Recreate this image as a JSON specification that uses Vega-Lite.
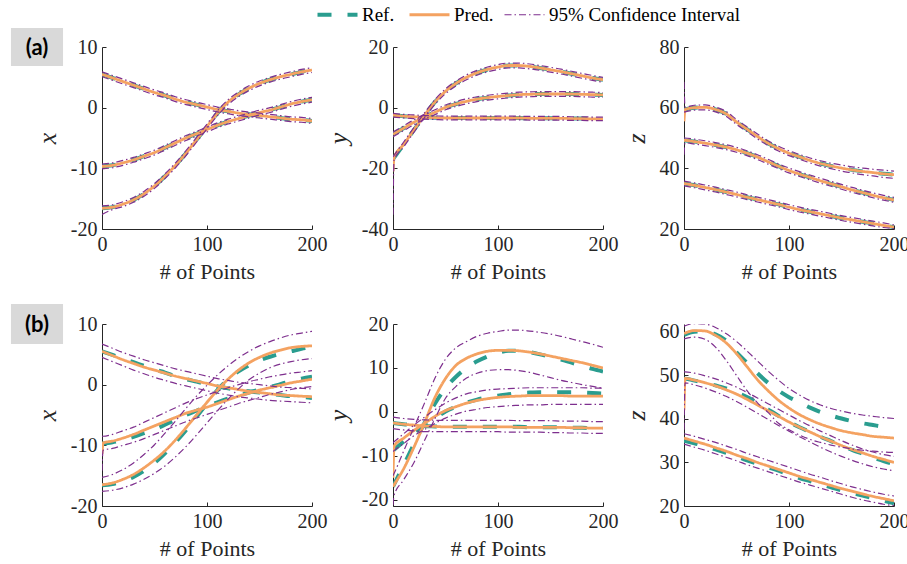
{
"$schema": "https://vega.github.io/schema/vega-lite/v6.json",
"background": "white",
"padding": {"left": 10, "top": 5, "right": 6, "bottom": 0},
"data": {"values": [
{"p":"a1","c":1,"t":0,"r":5.5,"q":5.5,"l":5.1,"h":5.9},
{"p":"a1","c":1,"t":10,"r":4.9,"q":4.9,"l":4.5,"h":5.3},
{"p":"a1","c":1,"t":20,"r":4.3,"q":4.3,"l":3.9,"h":4.7},
{"p":"a1","c":1,"t":30,"r":3.7,"q":3.7,"l":3.3,"h":4.1},
{"p":"a1","c":1,"t":40,"r":3.1,"q":3.1,"l":2.7,"h":3.5},
{"p":"a1","c":1,"t":50,"r":2.5,"q":2.5,"l":2.1,"h":2.9},
{"p":"a1","c":1,"t":60,"r":2.0,"q":2.0,"l":1.6,"h":2.4},
{"p":"a1","c":1,"t":70,"r":1.4,"q":1.4,"l":1.0,"h":1.8},
{"p":"a1","c":1,"t":80,"r":0.9,"q":0.9,"l":0.5,"h":1.3},
{"p":"a1","c":1,"t":90,"r":0.5,"q":0.5,"l":0.1,"h":0.9},
{"p":"a1","c":1,"t":100,"r":0.1,"q":0.1,"l":-0.3,"h":0.5},
{"p":"a1","c":1,"t":110,"r":-0.3,"q":-0.3,"l":-0.7,"h":0.1},
{"p":"a1","c":1,"t":120,"r":-0.6,"q":-0.6,"l":-1.0,"h":-0.2},
{"p":"a1","c":1,"t":130,"r":-0.9,"q":-0.9,"l":-1.3,"h":-0.5},
{"p":"a1","c":1,"t":140,"r":-1.1,"q":-1.1,"l":-1.5,"h":-0.7},
{"p":"a1","c":1,"t":150,"r":-1.3,"q":-1.3,"l":-1.7,"h":-0.9},
{"p":"a1","c":1,"t":160,"r":-1.5,"q":-1.5,"l":-1.9,"h":-1.1},
{"p":"a1","c":1,"t":170,"r":-1.7,"q":-1.7,"l":-2.1,"h":-1.3},
{"p":"a1","c":1,"t":180,"r":-1.9,"q":-1.9,"l":-2.3,"h":-1.5},
{"p":"a1","c":1,"t":190,"r":-2.0,"q":-2.0,"l":-2.4,"h":-1.6},
{"p":"a1","c":1,"t":200,"r":-2.2,"q":-2.2,"l":-2.6,"h":-1.8},
{"p":"a1","c":2,"t":0,"r":-9.7,"q":-9.7,"l":-10.1,"h":-9.3},
{"p":"a1","c":2,"t":10,"r":-9.5,"q":-9.5,"l":-9.9,"h":-9.1},
{"p":"a1","c":2,"t":20,"r":-9.1,"q":-9.1,"l":-9.5,"h":-8.7},
{"p":"a1","c":2,"t":30,"r":-8.6,"q":-8.6,"l":-9.0,"h":-8.2},
{"p":"a1","c":2,"t":40,"r":-8.0,"q":-8.0,"l":-8.4,"h":-7.6},
{"p":"a1","c":2,"t":50,"r":-7.4,"q":-7.4,"l":-7.8,"h":-7.0},
{"p":"a1","c":2,"t":60,"r":-6.6,"q":-6.6,"l":-7.0,"h":-6.2},
{"p":"a1","c":2,"t":70,"r":-5.8,"q":-5.8,"l":-6.2,"h":-5.4},
{"p":"a1","c":2,"t":80,"r":-5.0,"q":-5.0,"l":-5.4,"h":-4.6},
{"p":"a1","c":2,"t":90,"r":-4.3,"q":-4.3,"l":-4.7,"h":-3.9},
{"p":"a1","c":2,"t":100,"r":-3.6,"q":-3.6,"l":-4.0,"h":-3.2},
{"p":"a1","c":2,"t":110,"r":-2.9,"q":-2.9,"l":-3.3,"h":-2.5},
{"p":"a1","c":2,"t":120,"r":-2.3,"q":-2.3,"l":-2.7,"h":-1.9},
{"p":"a1","c":2,"t":130,"r":-1.8,"q":-1.8,"l":-2.2,"h":-1.4},
{"p":"a1","c":2,"t":140,"r":-1.3,"q":-1.3,"l":-1.7,"h":-0.9},
{"p":"a1","c":2,"t":150,"r":-0.8,"q":-0.8,"l":-1.2,"h":-0.4},
{"p":"a1","c":2,"t":160,"r":-0.4,"q":-0.4,"l":-0.8,"h":0.0},
{"p":"a1","c":2,"t":170,"r":0.1,"q":0.1,"l":-0.3,"h":0.5},
{"p":"a1","c":2,"t":180,"r":0.6,"q":0.6,"l":0.2,"h":1.0},
{"p":"a1","c":2,"t":190,"r":1.0,"q":1.0,"l":0.6,"h":1.4},
{"p":"a1","c":2,"t":200,"r":1.3,"q":1.3,"l":0.9,"h":1.7},
{"p":"a1","c":3,"t":0,"r":-16.6,"q":-16.6,"l":-17.6,"h":-16.2},
{"p":"a1","c":3,"t":10,"r":-16.4,"q":-16.4,"l":-16.8,"h":-16.0},
{"p":"a1","c":3,"t":20,"r":-15.9,"q":-15.9,"l":-16.3,"h":-15.5},
{"p":"a1","c":3,"t":30,"r":-15.2,"q":-15.2,"l":-15.6,"h":-14.8},
{"p":"a1","c":3,"t":40,"r":-14.2,"q":-14.2,"l":-14.6,"h":-13.8},
{"p":"a1","c":3,"t":50,"r":-12.9,"q":-12.9,"l":-13.3,"h":-12.5},
{"p":"a1","c":3,"t":60,"r":-11.3,"q":-11.3,"l":-11.7,"h":-10.9},
{"p":"a1","c":3,"t":70,"r":-9.5,"q":-9.5,"l":-9.9,"h":-9.1},
{"p":"a1","c":3,"t":80,"r":-7.5,"q":-7.5,"l":-7.9,"h":-7.1},
{"p":"a1","c":3,"t":90,"r":-5.3,"q":-5.3,"l":-5.7,"h":-4.9},
{"p":"a1","c":3,"t":100,"r":-3.1,"q":-3.1,"l":-3.5,"h":-2.7},
{"p":"a1","c":3,"t":110,"r":-0.9,"q":-0.9,"l":-1.3,"h":-0.5},
{"p":"a1","c":3,"t":120,"r":0.9,"q":0.9,"l":0.5,"h":1.3},
{"p":"a1","c":3,"t":130,"r":2.2,"q":2.2,"l":1.8,"h":2.6},
{"p":"a1","c":3,"t":140,"r":3.2,"q":3.2,"l":2.8,"h":3.6},
{"p":"a1","c":3,"t":150,"r":4.0,"q":4.0,"l":3.6,"h":4.4},
{"p":"a1","c":3,"t":160,"r":4.6,"q":4.6,"l":4.2,"h":5.0},
{"p":"a1","c":3,"t":170,"r":5.1,"q":5.1,"l":4.7,"h":5.5},
{"p":"a1","c":3,"t":180,"r":5.5,"q":5.5,"l":5.1,"h":5.9},
{"p":"a1","c":3,"t":190,"r":5.9,"q":5.9,"l":5.5,"h":6.3},
{"p":"a1","c":3,"t":200,"r":6.2,"q":6.2,"l":5.8,"h":6.6},
{"p":"b1","c":1,"t":0,"r":5.5,"q":5.5,"l":4.5,"h":6.7},
{"p":"b1","c":1,"t":10,"r":4.9,"q":4.8,"l":3.8,"h":6.0},
{"p":"b1","c":1,"t":20,"r":4.3,"q":4.1,"l":3.1,"h":5.3},
{"p":"b1","c":1,"t":30,"r":3.7,"q":3.5,"l":2.4,"h":4.7},
{"p":"b1","c":1,"t":40,"r":3.1,"q":2.9,"l":1.8,"h":4.1},
{"p":"b1","c":1,"t":50,"r":2.5,"q":2.4,"l":1.2,"h":3.6},
{"p":"b1","c":1,"t":60,"r":2.0,"q":1.9,"l":0.7,"h":3.1},
{"p":"b1","c":1,"t":70,"r":1.4,"q":1.4,"l":0.2,"h":2.6},
{"p":"b1","c":1,"t":80,"r":0.9,"q":1.0,"l":-0.2,"h":2.2},
{"p":"b1","c":1,"t":90,"r":0.5,"q":0.6,"l":-0.6,"h":1.8},
{"p":"b1","c":1,"t":100,"r":0.1,"q":0.2,"l":-1.0,"h":1.4},
{"p":"b1","c":1,"t":110,"r":-0.3,"q":-0.2,"l":-1.4,"h":1.0},
{"p":"b1","c":1,"t":120,"r":-0.6,"q":-0.5,"l":-1.7,"h":0.7},
{"p":"b1","c":1,"t":130,"r":-0.9,"q":-0.8,"l":-2.0,"h":0.4},
{"p":"b1","c":1,"t":140,"r":-1.1,"q":-1.1,"l":-2.2,"h":0.2},
{"p":"b1","c":1,"t":150,"r":-1.3,"q":-1.3,"l":-2.4,"h":0.0},
{"p":"b1","c":1,"t":160,"r":-1.5,"q":-1.5,"l":-2.6,"h":-0.2},
{"p":"b1","c":1,"t":170,"r":-1.7,"q":-1.7,"l":-2.7,"h":-0.4},
{"p":"b1","c":1,"t":180,"r":-1.9,"q":-1.8,"l":-2.8,"h":-0.5},
{"p":"b1","c":1,"t":190,"r":-2.0,"q":-1.9,"l":-2.9,"h":-0.6},
{"p":"b1","c":1,"t":200,"r":-2.2,"q":-2.0,"l":-3.0,"h":-0.7},
{"p":"b1","c":2,"t":0,"r":-9.7,"q":-11.4,"l":-14.2,"h":-8.5},
{"p":"b1","c":2,"t":1,"r":-9.7,"q":-9.6,"l":-10.8,"h":-8.5},
{"p":"b1","c":2,"t":10,"r":-9.5,"q":-9.3,"l":-10.5,"h":-8.2},
{"p":"b1","c":2,"t":20,"r":-9.1,"q":-8.8,"l":-10.0,"h":-7.6},
{"p":"b1","c":2,"t":30,"r":-8.6,"q":-8.2,"l":-9.5,"h":-7.0},
{"p":"b1","c":2,"t":40,"r":-8.0,"q":-7.5,"l":-8.9,"h":-6.2},
{"p":"b1","c":2,"t":50,"r":-7.4,"q":-6.8,"l":-8.2,"h":-5.4},
{"p":"b1","c":2,"t":60,"r":-6.6,"q":-6.1,"l":-7.5,"h":-4.6},
{"p":"b1","c":2,"t":70,"r":-5.8,"q":-5.4,"l":-6.8,"h":-3.8},
{"p":"b1","c":2,"t":80,"r":-5.0,"q":-4.7,"l":-6.1,"h":-3.0},
{"p":"b1","c":2,"t":90,"r":-4.3,"q":-4.2,"l":-5.5,"h":-2.3},
{"p":"b1","c":2,"t":100,"r":-3.6,"q":-3.7,"l":-4.9,"h":-1.7},
{"p":"b1","c":2,"t":110,"r":-2.9,"q":-3.1,"l":-4.3,"h":-1.1},
{"p":"b1","c":2,"t":120,"r":-2.3,"q":-2.5,"l":-3.7,"h":-0.5},
{"p":"b1","c":2,"t":130,"r":-1.8,"q":-1.9,"l":-3.1,"h":0.0},
{"p":"b1","c":2,"t":140,"r":-1.3,"q":-1.4,"l":-2.6,"h":0.5},
{"p":"b1","c":2,"t":150,"r":-0.8,"q":-0.9,"l":-2.1,"h":0.9},
{"p":"b1","c":2,"t":160,"r":-0.4,"q":-0.5,"l":-1.6,"h":1.3},
{"p":"b1","c":2,"t":170,"r":0.1,"q":-0.1,"l":-1.2,"h":1.6},
{"p":"b1","c":2,"t":180,"r":0.6,"q":0.3,"l":-0.8,"h":1.9},
{"p":"b1","c":2,"t":190,"r":1.0,"q":0.6,"l":-0.5,"h":2.1},
{"p":"b1","c":2,"t":200,"r":1.3,"q":0.9,"l":-0.3,"h":2.3},
{"p":"b1","c":3,"t":0,"r":-16.6,"q":-16.5,"l":-17.6,"h":-15.3},
{"p":"b1","c":3,"t":10,"r":-16.4,"q":-16.2,"l":-17.4,"h":-14.8},
{"p":"b1","c":3,"t":20,"r":-15.9,"q":-15.6,"l":-17.0,"h":-14.0},
{"p":"b1","c":3,"t":30,"r":-15.2,"q":-14.8,"l":-16.4,"h":-12.9},
{"p":"b1","c":3,"t":40,"r":-14.2,"q":-13.7,"l":-15.6,"h":-11.5},
{"p":"b1","c":3,"t":50,"r":-12.9,"q":-12.4,"l":-14.6,"h":-9.9},
{"p":"b1","c":3,"t":60,"r":-11.3,"q":-10.9,"l":-13.4,"h":-8.0},
{"p":"b1","c":3,"t":70,"r":-9.5,"q":-9.1,"l":-11.9,"h":-6.0},
{"p":"b1","c":3,"t":80,"r":-7.5,"q":-7.1,"l":-10.2,"h":-3.9},
{"p":"b1","c":3,"t":90,"r":-5.3,"q":-5.0,"l":-8.3,"h":-1.9},
{"p":"b1","c":3,"t":100,"r":-3.1,"q":-2.9,"l":-6.3,"h":-0.1},
{"p":"b1","c":3,"t":110,"r":-0.9,"q":-0.9,"l":-4.3,"h":1.6},
{"p":"b1","c":3,"t":120,"r":0.9,"q":0.9,"l":-2.4,"h":3.1},
{"p":"b1","c":3,"t":130,"r":2.2,"q":2.4,"l":-0.7,"h":4.4},
{"p":"b1","c":3,"t":140,"r":3.2,"q":3.6,"l":0.8,"h":5.5},
{"p":"b1","c":3,"t":150,"r":4.0,"q":4.5,"l":1.9,"h":6.4},
{"p":"b1","c":3,"t":160,"r":4.6,"q":5.2,"l":2.8,"h":7.1},
{"p":"b1","c":3,"t":170,"r":5.1,"q":5.7,"l":3.4,"h":7.7},
{"p":"b1","c":3,"t":180,"r":5.5,"q":6.1,"l":3.8,"h":8.2},
{"p":"b1","c":3,"t":190,"r":5.9,"q":6.3,"l":4.1,"h":8.5},
{"p":"b1","c":3,"t":200,"r":6.2,"q":6.4,"l":4.3,"h":8.8},
{"p":"a2","c":1,"t":0,"r":-17.0,"q":-21.0,"l":-35.3,"h":-16.2},
{"p":"a2","c":1,"t":1,"r":-16.5,"q":-16.5,"l":-17.3,"h":-15.7},
{"p":"a2","c":1,"t":10,"r":-12.2,"q":-12.2,"l":-13.0,"h":-11.4},
{"p":"a2","c":1,"t":20,"r":-7.3,"q":-7.3,"l":-8.1,"h":-6.5},
{"p":"a2","c":1,"t":30,"r":-2.5,"q":-2.5,"l":-3.3,"h":-1.7},
{"p":"a2","c":1,"t":40,"r":1.9,"q":1.9,"l":1.1,"h":2.7},
{"p":"a2","c":1,"t":50,"r":5.4,"q":5.4,"l":4.6,"h":6.2},
{"p":"a2","c":1,"t":60,"r":8.0,"q":8.0,"l":7.2,"h":8.8},
{"p":"a2","c":1,"t":70,"r":10.0,"q":10.0,"l":9.2,"h":10.8},
{"p":"a2","c":1,"t":80,"r":11.5,"q":11.5,"l":10.7,"h":12.3},
{"p":"a2","c":1,"t":90,"r":12.6,"q":12.6,"l":11.8,"h":13.4},
{"p":"a2","c":1,"t":100,"r":13.4,"q":13.4,"l":12.6,"h":14.2},
{"p":"a2","c":1,"t":110,"r":13.9,"q":13.9,"l":13.1,"h":14.7},
{"p":"a2","c":1,"t":120,"r":13.9,"q":13.9,"l":13.1,"h":14.7},
{"p":"a2","c":1,"t":130,"r":13.6,"q":13.6,"l":12.8,"h":14.4},
{"p":"a2","c":1,"t":140,"r":13.1,"q":13.1,"l":12.3,"h":13.9},
{"p":"a2","c":1,"t":150,"r":12.5,"q":12.5,"l":11.7,"h":13.3},
{"p":"a2","c":1,"t":160,"r":11.9,"q":11.9,"l":11.1,"h":12.7},
{"p":"a2","c":1,"t":170,"r":11.2,"q":11.2,"l":10.4,"h":12.0},
{"p":"a2","c":1,"t":180,"r":10.5,"q":10.5,"l":9.7,"h":11.3},
{"p":"a2","c":1,"t":190,"r":9.8,"q":9.8,"l":9.0,"h":10.6},
{"p":"a2","c":1,"t":200,"r":9.2,"q":9.2,"l":8.4,"h":10.0},
{"p":"a2","c":2,"t":0,"r":-8.8,"q":-8.8,"l":-9.6,"h":-8.0},
{"p":"a2","c":2,"t":10,"r":-6.8,"q":-6.8,"l":-7.6,"h":-6.0},
{"p":"a2","c":2,"t":20,"r":-4.8,"q":-4.8,"l":-5.6,"h":-4.0},
{"p":"a2","c":2,"t":30,"r":-3.0,"q":-3.0,"l":-3.8,"h":-2.2},
{"p":"a2","c":2,"t":40,"r":-1.5,"q":-1.5,"l":-2.3,"h":-0.7},
{"p":"a2","c":2,"t":50,"r":0.1,"q":0.1,"l":-0.7,"h":0.9},
{"p":"a2","c":2,"t":60,"r":1.2,"q":1.2,"l":0.4,"h":2.0},
{"p":"a2","c":2,"t":70,"r":2.1,"q":2.1,"l":1.3,"h":2.9},
{"p":"a2","c":2,"t":80,"r":2.8,"q":2.8,"l":2.0,"h":3.6},
{"p":"a2","c":2,"t":90,"r":3.3,"q":3.3,"l":2.5,"h":4.1},
{"p":"a2","c":2,"t":100,"r":3.7,"q":3.7,"l":2.9,"h":4.5},
{"p":"a2","c":2,"t":110,"r":4.0,"q":4.0,"l":3.2,"h":4.8},
{"p":"a2","c":2,"t":120,"r":4.3,"q":4.3,"l":3.5,"h":5.1},
{"p":"a2","c":2,"t":130,"r":4.4,"q":4.4,"l":3.6,"h":5.2},
{"p":"a2","c":2,"t":140,"r":4.5,"q":4.5,"l":3.7,"h":5.3},
{"p":"a2","c":2,"t":150,"r":4.5,"q":4.5,"l":3.7,"h":5.3},
{"p":"a2","c":2,"t":160,"r":4.5,"q":4.5,"l":3.7,"h":5.3},
{"p":"a2","c":2,"t":170,"r":4.5,"q":4.5,"l":3.7,"h":5.3},
{"p":"a2","c":2,"t":180,"r":4.4,"q":4.4,"l":3.6,"h":5.2},
{"p":"a2","c":2,"t":190,"r":4.3,"q":4.3,"l":3.5,"h":5.1},
{"p":"a2","c":2,"t":200,"r":4.2,"q":4.2,"l":3.4,"h":5.0},
{"p":"a2","c":3,"t":0,"r":-2.5,"q":-2.5,"l":-3.1,"h":-1.9},
{"p":"a2","c":3,"t":10,"r":-2.8,"q":-2.8,"l":-3.4,"h":-2.2},
{"p":"a2","c":3,"t":20,"r":-3.0,"q":-3.0,"l":-3.6,"h":-2.4},
{"p":"a2","c":3,"t":30,"r":-3.2,"q":-3.2,"l":-3.8,"h":-2.6},
{"p":"a2","c":3,"t":40,"r":-3.3,"q":-3.3,"l":-3.9,"h":-2.7},
{"p":"a2","c":3,"t":50,"r":-3.4,"q":-3.4,"l":-4.0,"h":-2.8},
{"p":"a2","c":3,"t":60,"r":-3.4,"q":-3.4,"l":-4.0,"h":-2.8},
{"p":"a2","c":3,"t":70,"r":-3.4,"q":-3.4,"l":-4.0,"h":-2.8},
{"p":"a2","c":3,"t":80,"r":-3.4,"q":-3.4,"l":-4.0,"h":-2.8},
{"p":"a2","c":3,"t":90,"r":-3.4,"q":-3.4,"l":-4.0,"h":-2.8},
{"p":"a2","c":3,"t":100,"r":-3.4,"q":-3.4,"l":-4.0,"h":-2.8},
{"p":"a2","c":3,"t":110,"r":-3.4,"q":-3.4,"l":-4.0,"h":-2.8},
{"p":"a2","c":3,"t":120,"r":-3.4,"q":-3.4,"l":-4.0,"h":-2.8},
{"p":"a2","c":3,"t":130,"r":-3.5,"q":-3.5,"l":-4.1,"h":-2.9},
{"p":"a2","c":3,"t":140,"r":-3.5,"q":-3.5,"l":-4.1,"h":-2.9},
{"p":"a2","c":3,"t":150,"r":-3.5,"q":-3.5,"l":-4.1,"h":-2.9},
{"p":"a2","c":3,"t":160,"r":-3.5,"q":-3.5,"l":-4.1,"h":-2.9},
{"p":"a2","c":3,"t":170,"r":-3.6,"q":-3.6,"l":-4.2,"h":-3.0},
{"p":"a2","c":3,"t":180,"r":-3.6,"q":-3.6,"l":-4.2,"h":-3.0},
{"p":"a2","c":3,"t":190,"r":-3.7,"q":-3.7,"l":-4.3,"h":-3.1},
{"p":"a2","c":3,"t":200,"r":-3.7,"q":-3.7,"l":-4.3,"h":-3.1},
{"p":"b2","c":1,"t":0,"r":-17.0,"q":-17.0,"l":-21.2,"h":-14.5},
{"p":"b2","c":1,"t":1,"r":-16.5,"q":-16.6,"l":-19.0,"h":-14.0},
{"p":"b2","c":1,"t":10,"r":-12.2,"q":-13.0,"l":-15.5,"h":-9.0},
{"p":"b2","c":1,"t":20,"r":-7.3,"q":-8.0,"l":-11.5,"h":-3.5},
{"p":"b2","c":1,"t":30,"r":-2.5,"q":-2.5,"l":-6.5,"h":2.0},
{"p":"b2","c":1,"t":40,"r":1.9,"q":3.3,"l":-1.5,"h":7.7},
{"p":"b2","c":1,"t":50,"r":5.4,"q":7.6,"l":3.1,"h":12.0},
{"p":"b2","c":1,"t":60,"r":8.0,"q":10.6,"l":5.8,"h":14.6},
{"p":"b2","c":1,"t":70,"r":10.0,"q":12.2,"l":7.7,"h":16.0},
{"p":"b2","c":1,"t":80,"r":11.5,"q":13.2,"l":8.8,"h":17.2},
{"p":"b2","c":1,"t":90,"r":12.6,"q":13.8,"l":9.4,"h":17.9},
{"p":"b2","c":1,"t":100,"r":13.4,"q":14.0,"l":9.6,"h":18.3},
{"p":"b2","c":1,"t":110,"r":13.9,"q":14.0,"l":9.6,"h":18.6},
{"p":"b2","c":1,"t":120,"r":13.9,"q":13.9,"l":9.4,"h":18.6},
{"p":"b2","c":1,"t":130,"r":13.6,"q":13.6,"l":9.0,"h":18.4},
{"p":"b2","c":1,"t":140,"r":13.1,"q":13.2,"l":8.4,"h":18.1},
{"p":"b2","c":1,"t":150,"r":12.5,"q":12.7,"l":7.8,"h":17.7},
{"p":"b2","c":1,"t":160,"r":11.9,"q":12.2,"l":7.2,"h":17.2},
{"p":"b2","c":1,"t":170,"r":11.2,"q":11.7,"l":6.7,"h":16.6},
{"p":"b2","c":1,"t":180,"r":10.5,"q":11.2,"l":6.2,"h":16.0},
{"p":"b2","c":1,"t":190,"r":9.8,"q":10.6,"l":5.8,"h":15.4},
{"p":"b2","c":1,"t":200,"r":9.2,"q":10.0,"l":5.4,"h":14.7},
{"p":"b2","c":2,"t":0,"r":-8.8,"q":-15.0,"l":-9.0,"h":-7.0},
{"p":"b2","c":2,"t":1,"r":-8.6,"q":-7.8,"l":-8.8,"h":-6.8},
{"p":"b2","c":2,"t":10,"r":-6.8,"q":-6.0,"l":-7.2,"h":-5.0},
{"p":"b2","c":2,"t":20,"r":-4.8,"q":-4.2,"l":-5.4,"h":-3.0},
{"p":"b2","c":2,"t":30,"r":-3.0,"q":-2.6,"l":-4.0,"h":-1.2},
{"p":"b2","c":2,"t":40,"r":-1.5,"q":-1.0,"l":-2.6,"h":0.5},
{"p":"b2","c":2,"t":50,"r":0.1,"q":0.3,"l":-1.4,"h":2.0},
{"p":"b2","c":2,"t":60,"r":1.2,"q":1.2,"l":-0.5,"h":3.2},
{"p":"b2","c":2,"t":70,"r":2.1,"q":2.0,"l":0.2,"h":4.1},
{"p":"b2","c":2,"t":80,"r":2.8,"q":2.6,"l":0.6,"h":4.6},
{"p":"b2","c":2,"t":90,"r":3.3,"q":3.0,"l":1.0,"h":5.0},
{"p":"b2","c":2,"t":100,"r":3.7,"q":3.3,"l":1.2,"h":5.2},
{"p":"b2","c":2,"t":110,"r":4.0,"q":3.5,"l":1.4,"h":5.3},
{"p":"b2","c":2,"t":120,"r":4.3,"q":3.6,"l":1.5,"h":5.4},
{"p":"b2","c":2,"t":130,"r":4.4,"q":3.7,"l":1.6,"h":5.5},
{"p":"b2","c":2,"t":140,"r":4.5,"q":3.7,"l":1.6,"h":5.5},
{"p":"b2","c":2,"t":150,"r":4.5,"q":3.7,"l":1.7,"h":5.5},
{"p":"b2","c":2,"t":160,"r":4.5,"q":3.7,"l":1.7,"h":5.5},
{"p":"b2","c":2,"t":170,"r":4.5,"q":3.6,"l":1.7,"h":5.5},
{"p":"b2","c":2,"t":180,"r":4.4,"q":3.6,"l":1.7,"h":5.5},
{"p":"b2","c":2,"t":190,"r":4.3,"q":3.6,"l":1.7,"h":5.4},
{"p":"b2","c":2,"t":200,"r":4.2,"q":3.6,"l":1.7,"h":5.4},
{"p":"b2","c":3,"t":0,"r":-2.5,"q":-2.5,"l":-3.8,"h":-1.2},
{"p":"b2","c":3,"t":10,"r":-2.8,"q":-2.8,"l":-4.1,"h":-1.5},
{"p":"b2","c":3,"t":20,"r":-3.0,"q":-3.0,"l":-4.3,"h":-1.7},
{"p":"b2","c":3,"t":30,"r":-3.2,"q":-3.2,"l":-4.5,"h":-1.8},
{"p":"b2","c":3,"t":40,"r":-3.3,"q":-3.3,"l":-4.5,"h":-1.9},
{"p":"b2","c":3,"t":50,"r":-3.4,"q":-3.4,"l":-4.5,"h":-1.9},
{"p":"b2","c":3,"t":60,"r":-3.4,"q":-3.4,"l":-4.5,"h":-1.9},
{"p":"b2","c":3,"t":70,"r":-3.4,"q":-3.4,"l":-4.5,"h":-1.9},
{"p":"b2","c":3,"t":80,"r":-3.4,"q":-3.4,"l":-4.5,"h":-1.9},
{"p":"b2","c":3,"t":90,"r":-3.4,"q":-3.4,"l":-4.5,"h":-1.9},
{"p":"b2","c":3,"t":100,"r":-3.4,"q":-3.4,"l":-4.5,"h":-1.9},
{"p":"b2","c":3,"t":110,"r":-3.4,"q":-3.4,"l":-4.6,"h":-1.9},
{"p":"b2","c":3,"t":120,"r":-3.4,"q":-3.5,"l":-4.6,"h":-2.0},
{"p":"b2","c":3,"t":130,"r":-3.5,"q":-3.5,"l":-4.6,"h":-2.0},
{"p":"b2","c":3,"t":140,"r":-3.5,"q":-3.5,"l":-4.6,"h":-2.0},
{"p":"b2","c":3,"t":150,"r":-3.5,"q":-3.5,"l":-4.7,"h":-2.0},
{"p":"b2","c":3,"t":160,"r":-3.5,"q":-3.5,"l":-4.7,"h":-2.1},
{"p":"b2","c":3,"t":170,"r":-3.6,"q":-3.6,"l":-4.8,"h":-2.1},
{"p":"b2","c":3,"t":180,"r":-3.6,"q":-3.6,"l":-4.8,"h":-2.1},
{"p":"b2","c":3,"t":190,"r":-3.7,"q":-3.7,"l":-4.9,"h":-2.2},
{"p":"b2","c":3,"t":200,"r":-3.7,"q":-3.7,"l":-4.9,"h":-2.2},
{"p":"a3","c":1,"t":0,"r":59.3,"q":55.5,"l":58.5,"h":68.5},
{"p":"a3","c":1,"t":1,"r":59.4,"q":59.4,"l":58.6,"h":60.2},
{"p":"a3","c":1,"t":10,"r":60.0,"q":60.0,"l":59.2,"h":60.8},
{"p":"a3","c":1,"t":20,"r":60.1,"q":60.1,"l":59.3,"h":60.9},
{"p":"a3","c":1,"t":30,"r":59.4,"q":59.4,"l":58.6,"h":60.2},
{"p":"a3","c":1,"t":40,"r":58.0,"q":58.0,"l":57.2,"h":58.8},
{"p":"a3","c":1,"t":50,"r":55.3,"q":55.3,"l":54.5,"h":56.1},
{"p":"a3","c":1,"t":60,"r":52.9,"q":52.9,"l":52.1,"h":53.7},
{"p":"a3","c":1,"t":70,"r":50.5,"q":50.5,"l":49.7,"h":51.3},
{"p":"a3","c":1,"t":80,"r":48.3,"q":48.3,"l":47.5,"h":49.1},
{"p":"a3","c":1,"t":90,"r":46.5,"q":46.5,"l":45.7,"h":47.3},
{"p":"a3","c":1,"t":100,"r":45.0,"q":45.0,"l":44.2,"h":45.8},
{"p":"a3","c":1,"t":110,"r":43.8,"q":43.8,"l":43.0,"h":44.6},
{"p":"a3","c":1,"t":120,"r":42.6,"q":42.6,"l":41.8,"h":43.4},
{"p":"a3","c":1,"t":130,"r":41.6,"q":41.6,"l":40.7,"h":42.5},
{"p":"a3","c":1,"t":140,"r":40.8,"q":40.8,"l":39.9,"h":41.7},
{"p":"a3","c":1,"t":150,"r":40.1,"q":40.1,"l":39.1,"h":41.1},
{"p":"a3","c":1,"t":160,"r":39.5,"q":39.5,"l":38.5,"h":40.5},
{"p":"a3","c":1,"t":170,"r":39.0,"q":39.0,"l":37.9,"h":40.1},
{"p":"a3","c":1,"t":180,"r":38.6,"q":38.6,"l":37.5,"h":39.7},
{"p":"a3","c":1,"t":190,"r":38.2,"q":38.2,"l":37.0,"h":39.4},
{"p":"a3","c":1,"t":200,"r":37.9,"q":37.9,"l":36.7,"h":39.1},
{"p":"a3","c":2,"t":0,"r":49.2,"q":49.2,"l":44.5,"h":50.0},
{"p":"a3","c":2,"t":1,"r":49.2,"q":49.2,"l":48.4,"h":50.0},
{"p":"a3","c":2,"t":10,"r":48.8,"q":48.8,"l":48.0,"h":49.6},
{"p":"a3","c":2,"t":20,"r":48.3,"q":48.3,"l":47.5,"h":49.1},
{"p":"a3","c":2,"t":30,"r":47.7,"q":47.7,"l":46.9,"h":48.5},
{"p":"a3","c":2,"t":40,"r":47.0,"q":47.0,"l":46.2,"h":47.8},
{"p":"a3","c":2,"t":50,"r":46.1,"q":46.1,"l":45.3,"h":46.9},
{"p":"a3","c":2,"t":60,"r":45.0,"q":45.0,"l":44.2,"h":45.8},
{"p":"a3","c":2,"t":70,"r":43.7,"q":43.7,"l":42.9,"h":44.5},
{"p":"a3","c":2,"t":80,"r":42.2,"q":42.2,"l":41.4,"h":43.0},
{"p":"a3","c":2,"t":90,"r":40.7,"q":40.7,"l":39.9,"h":41.5},
{"p":"a3","c":2,"t":100,"r":39.3,"q":39.3,"l":38.5,"h":40.1},
{"p":"a3","c":2,"t":110,"r":38.1,"q":38.1,"l":37.3,"h":38.9},
{"p":"a3","c":2,"t":120,"r":37.0,"q":37.0,"l":36.2,"h":37.8},
{"p":"a3","c":2,"t":130,"r":35.9,"q":35.9,"l":35.1,"h":36.7},
{"p":"a3","c":2,"t":140,"r":34.9,"q":34.9,"l":34.1,"h":35.7},
{"p":"a3","c":2,"t":150,"r":33.9,"q":33.9,"l":33.1,"h":34.7},
{"p":"a3","c":2,"t":160,"r":32.9,"q":32.9,"l":32.1,"h":33.7},
{"p":"a3","c":2,"t":170,"r":32.0,"q":32.0,"l":31.2,"h":32.8},
{"p":"a3","c":2,"t":180,"r":31.1,"q":31.1,"l":30.3,"h":31.9},
{"p":"a3","c":2,"t":190,"r":30.3,"q":30.3,"l":29.5,"h":31.1},
{"p":"a3","c":2,"t":200,"r":29.6,"q":29.6,"l":28.8,"h":30.4},
{"p":"a3","c":3,"t":0,"r":35.0,"q":35.0,"l":34.2,"h":35.8},
{"p":"a3","c":3,"t":10,"r":34.4,"q":34.4,"l":33.6,"h":35.2},
{"p":"a3","c":3,"t":20,"r":33.7,"q":33.7,"l":32.9,"h":34.5},
{"p":"a3","c":3,"t":30,"r":33.0,"q":33.0,"l":32.2,"h":33.8},
{"p":"a3","c":3,"t":40,"r":32.2,"q":32.2,"l":31.4,"h":33.0},
{"p":"a3","c":3,"t":50,"r":31.4,"q":31.4,"l":30.6,"h":32.2},
{"p":"a3","c":3,"t":60,"r":30.5,"q":30.5,"l":29.7,"h":31.3},
{"p":"a3","c":3,"t":70,"r":29.7,"q":29.7,"l":28.9,"h":30.5},
{"p":"a3","c":3,"t":80,"r":28.9,"q":28.9,"l":28.1,"h":29.7},
{"p":"a3","c":3,"t":90,"r":28.1,"q":28.1,"l":27.3,"h":28.9},
{"p":"a3","c":3,"t":100,"r":27.2,"q":27.2,"l":26.4,"h":28.0},
{"p":"a3","c":3,"t":110,"r":26.4,"q":26.4,"l":25.6,"h":27.2},
{"p":"a3","c":3,"t":120,"r":25.7,"q":25.7,"l":24.9,"h":26.5},
{"p":"a3","c":3,"t":130,"r":25.0,"q":25.0,"l":24.2,"h":25.8},
{"p":"a3","c":3,"t":140,"r":24.3,"q":24.3,"l":23.5,"h":25.1},
{"p":"a3","c":3,"t":150,"r":23.6,"q":23.6,"l":22.8,"h":24.4},
{"p":"a3","c":3,"t":160,"r":23.0,"q":23.0,"l":22.2,"h":23.8},
{"p":"a3","c":3,"t":170,"r":22.4,"q":22.4,"l":21.6,"h":23.2},
{"p":"a3","c":3,"t":180,"r":21.8,"q":21.8,"l":21.0,"h":22.6},
{"p":"a3","c":3,"t":190,"r":21.2,"q":21.2,"l":20.5,"h":22.0},
{"p":"a3","c":3,"t":200,"r":20.6,"q":20.6,"l":20.1,"h":21.4},
{"p":"b3","c":1,"t":0,"r":59.3,"q":59.6,"l":58.4,"h":61.3},
{"p":"b3","c":1,"t":10,"r":60.0,"q":60.3,"l":58.8,"h":61.9},
{"p":"b3","c":1,"t":20,"r":60.1,"q":60.2,"l":58.3,"h":61.8},
{"p":"b3","c":1,"t":30,"r":59.4,"q":59.2,"l":56.5,"h":61.0},
{"p":"b3","c":1,"t":40,"r":58.0,"q":57.5,"l":53.5,"h":59.6},
{"p":"b3","c":1,"t":50,"r":55.3,"q":55.0,"l":50.0,"h":57.8},
{"p":"b3","c":1,"t":60,"r":52.9,"q":52.0,"l":46.5,"h":55.6},
{"p":"b3","c":1,"t":70,"r":50.5,"q":49.0,"l":43.7,"h":53.3},
{"p":"b3","c":1,"t":80,"r":48.3,"q":46.5,"l":41.5,"h":51.0},
{"p":"b3","c":1,"t":90,"r":46.5,"q":44.3,"l":39.0,"h":48.9},
{"p":"b3","c":1,"t":100,"r":45.0,"q":42.5,"l":37.5,"h":47.0},
{"p":"b3","c":1,"t":110,"r":43.8,"q":41.0,"l":36.3,"h":45.5},
{"p":"b3","c":1,"t":120,"r":42.6,"q":39.8,"l":35.3,"h":44.2},
{"p":"b3","c":1,"t":130,"r":41.6,"q":38.8,"l":34.6,"h":43.2},
{"p":"b3","c":1,"t":140,"r":40.8,"q":38.0,"l":34.0,"h":42.4},
{"p":"b3","c":1,"t":150,"r":40.1,"q":37.3,"l":33.5,"h":41.8},
{"p":"b3","c":1,"t":160,"r":39.5,"q":36.8,"l":33.1,"h":41.3},
{"p":"b3","c":1,"t":170,"r":39.0,"q":36.4,"l":32.8,"h":40.9},
{"p":"b3","c":1,"t":180,"r":38.6,"q":36.0,"l":32.6,"h":40.6},
{"p":"b3","c":1,"t":190,"r":38.2,"q":35.8,"l":32.4,"h":40.3},
{"p":"b3","c":1,"t":200,"r":37.9,"q":35.6,"l":32.3,"h":40.1},
{"p":"b3","c":2,"t":0,"r":49.2,"q":42.0,"l":37.5,"h":50.8},
{"p":"b3","c":2,"t":1,"r":49.2,"q":49.3,"l":48.3,"h":50.8},
{"p":"b3","c":2,"t":10,"r":48.8,"q":48.9,"l":47.8,"h":50.5},
{"p":"b3","c":2,"t":20,"r":48.3,"q":48.3,"l":47.1,"h":49.9},
{"p":"b3","c":2,"t":30,"r":47.7,"q":47.6,"l":46.2,"h":49.2},
{"p":"b3","c":2,"t":40,"r":47.0,"q":46.7,"l":45.2,"h":48.3},
{"p":"b3","c":2,"t":50,"r":46.1,"q":45.7,"l":44.0,"h":47.3},
{"p":"b3","c":2,"t":60,"r":45.0,"q":44.5,"l":42.7,"h":46.1},
{"p":"b3","c":2,"t":70,"r":43.7,"q":43.2,"l":41.3,"h":44.8},
{"p":"b3","c":2,"t":80,"r":42.2,"q":41.9,"l":39.9,"h":43.5},
{"p":"b3","c":2,"t":90,"r":40.7,"q":40.6,"l":38.5,"h":42.2},
{"p":"b3","c":2,"t":100,"r":39.3,"q":39.3,"l":37.2,"h":40.9},
{"p":"b3","c":2,"t":110,"r":38.1,"q":38.1,"l":35.9,"h":39.6},
{"p":"b3","c":2,"t":120,"r":37.0,"q":37.0,"l":34.7,"h":38.4},
{"p":"b3","c":2,"t":130,"r":35.9,"q":35.9,"l":33.5,"h":37.2},
{"p":"b3","c":2,"t":140,"r":34.9,"q":34.9,"l":32.4,"h":36.1},
{"p":"b3","c":2,"t":150,"r":33.9,"q":33.9,"l":31.4,"h":35.0},
{"p":"b3","c":2,"t":160,"r":32.9,"q":33.0,"l":30.5,"h":34.0},
{"p":"b3","c":2,"t":170,"r":32.0,"q":32.2,"l":29.7,"h":33.1},
{"p":"b3","c":2,"t":180,"r":31.1,"q":31.4,"l":29.0,"h":32.4},
{"p":"b3","c":2,"t":190,"r":30.3,"q":30.7,"l":28.5,"h":31.8},
{"p":"b3","c":2,"t":200,"r":29.6,"q":30.0,"l":28.1,"h":31.4},
{"p":"b3","c":3,"t":0,"r":35.0,"q":35.6,"l":34.2,"h":36.6},
{"p":"b3","c":3,"t":10,"r":34.4,"q":34.9,"l":33.5,"h":36.0},
{"p":"b3","c":3,"t":20,"r":33.7,"q":34.2,"l":32.8,"h":35.3},
{"p":"b3","c":3,"t":30,"r":33.0,"q":33.4,"l":32.0,"h":34.6},
{"p":"b3","c":3,"t":40,"r":32.2,"q":32.6,"l":31.2,"h":33.8},
{"p":"b3","c":3,"t":50,"r":31.4,"q":31.7,"l":30.4,"h":33.0},
{"p":"b3","c":3,"t":60,"r":30.5,"q":30.9,"l":29.5,"h":32.1},
{"p":"b3","c":3,"t":70,"r":29.7,"q":30.0,"l":28.7,"h":31.3},
{"p":"b3","c":3,"t":80,"r":28.9,"q":29.2,"l":27.9,"h":30.5},
{"p":"b3","c":3,"t":90,"r":28.1,"q":28.4,"l":27.1,"h":29.7},
{"p":"b3","c":3,"t":100,"r":27.2,"q":27.6,"l":26.3,"h":28.9},
{"p":"b3","c":3,"t":110,"r":26.4,"q":26.8,"l":25.5,"h":28.1},
{"p":"b3","c":3,"t":120,"r":25.7,"q":26.1,"l":24.8,"h":27.3},
{"p":"b3","c":3,"t":130,"r":25.0,"q":25.4,"l":24.1,"h":26.6},
{"p":"b3","c":3,"t":140,"r":24.3,"q":24.7,"l":23.4,"h":25.8},
{"p":"b3","c":3,"t":150,"r":23.6,"q":24.0,"l":22.7,"h":25.1},
{"p":"b3","c":3,"t":160,"r":23.0,"q":23.4,"l":22.0,"h":24.4},
{"p":"b3","c":3,"t":170,"r":22.4,"q":22.8,"l":21.4,"h":23.8},
{"p":"b3","c":3,"t":180,"r":21.8,"q":22.2,"l":20.9,"h":23.2},
{"p":"b3","c":3,"t":190,"r":21.2,"q":21.7,"l":20.4,"h":22.7},
{"p":"b3","c":3,"t":200,"r":20.6,"q":21.2,"l":20.1,"h":22.3}
]},
"columns": 3,
"spacing": {"row": 95, "column": 81},
"bounds": "flush",
"concat": [
{"width": 210, "height": 182, "layer": [
 {"transform": [{"filter": "datum.p == 'a1'"}, {"fold": ["r","q","l","h"], "as": ["s","v"]}],
  "encoding": {
   "x": {"field": "t", "type": "quantitative", "scale": {"domain": [0,200]}, "axis": {"values": [0,100,200], "title": "# of Points", "labelFont": "Liberation Serif", "titleFont": "Liberation Serif"}},
   "y": {"field": "v", "type": "quantitative", "scale": {"domain": [-20,10]}, "axis": {"values": [-20,-10,0,10], "title": "x", "labelFont": "Liberation Serif", "titleFont": "Liberation Serif", "labelExpr": "datum.value < 0 ? '-' + abs(datum.value) : '' + datum.value"}}
  },
  "layer": [
   {"transform": [{"filter": "datum.s == 'r'"}], "mark": {"type": "line", "clip": true}, "encoding": {"detail": {"field": "c"}, "color": {"datum": "Ref.", "scale": {"domain": ["Ref.","Pred.","95% Confidence Interval"], "range": ["#2A9D8F","#F4A261","#7E2F8E"]}, "legend": {"title": null}}, "strokeDash": {"datum": "Ref.", "scale": {"domain": ["Ref.","Pred.","95% Confidence Interval"], "range": [[14,16],[1,0],[7,3,1.5,3]]}, "legend": {"title": null}}, "strokeWidth": {"datum": "Ref.", "scale": {"type": "ordinal", "domain": ["Ref.","Pred.","95% Confidence Interval"], "range": [4,2.8,1.2]}, "legend": {"title": null}}}},
   {"transform": [{"filter": "datum.s == 'q'"}], "mark": {"type": "line", "clip": true}, "encoding": {"detail": {"field": "c"}, "color": {"datum": "Pred.", "scale": {"domain": ["Ref.","Pred.","95% Confidence Interval"], "range": ["#2A9D8F","#F4A261","#7E2F8E"]}, "legend": {"title": null}}, "strokeDash": {"datum": "Pred.", "scale": {"domain": ["Ref.","Pred.","95% Confidence Interval"], "range": [[14,16],[1,0],[7,3,1.5,3]]}, "legend": {"title": null}}, "strokeWidth": {"datum": "Pred.", "scale": {"type": "ordinal", "domain": ["Ref.","Pred.","95% Confidence Interval"], "range": [4,2.8,1.2]}, "legend": {"title": null}}}},
   {"transform": [{"filter": "datum.s == 'l' || datum.s == 'h'"}], "mark": {"type": "line", "clip": true}, "encoding": {"detail": [{"field": "c"},{"field": "s"}], "color": {"datum": "95% Confidence Interval", "scale": {"domain": ["Ref.","Pred.","95% Confidence Interval"], "range": ["#2A9D8F","#F4A261","#7E2F8E"]}, "legend": {"title": null}}, "strokeDash": {"datum": "95% Confidence Interval", "scale": {"domain": ["Ref.","Pred.","95% Confidence Interval"], "range": [[14,16],[1,0],[7,3,1.5,3]]}, "legend": {"title": null}}, "strokeWidth": {"datum": "95% Confidence Interval", "scale": {"type": "ordinal", "domain": ["Ref.","Pred.","95% Confidence Interval"], "range": [4,2.8,1.2]}, "legend": {"title": null}}}}
  ]},
 {"data": {"values": [{}]}, "mark": {"type": "rect", "color": "#D9D9D9"}, "encoding": {"x": {"datum": -86.7, "type": "quantitative", "scale": {"domain": [0,200]}}, "x2": {"datum": -37.1}, "y": {"datum": 13.13, "type": "quantitative", "scale": {"domain": [-20,10]}}, "y2": {"datum": 6.87}}},
 {"data": {"values": [{}]}, "mark": {"type": "text", "text": "(a)", "font": "Lato", "fontWeight": "bold", "fontSize": 22, "align": "center", "baseline": "middle", "color": "#000000"}, "encoding": {"x": {"datum": -61.9, "type": "quantitative", "scale": {"domain": [0,200]}}, "y": {"datum": 9.9, "type": "quantitative", "scale": {"domain": [-20,10]}}}}
]},
{"width": 210, "height": 182,
 "transform": [{"filter": "datum.p == 'a2'"}, {"fold": ["r","q","l","h"], "as": ["s","v"]}],
 "encoding": {
  "x": {"field": "t", "type": "quantitative", "scale": {"domain": [0,200]}, "axis": {"values": [0,100,200], "title": "# of Points", "labelFont": "Liberation Serif", "titleFont": "Liberation Serif"}},
  "y": {"field": "v", "type": "quantitative", "scale": {"domain": [-40,20]}, "axis": {"values": [-40,-20,0,20], "title": "y", "labelFont": "Liberation Serif", "titleFont": "Liberation Serif", "labelExpr": "datum.value < 0 ? '-' + abs(datum.value) : '' + datum.value"}}
 },
 "layer": [
  {"transform": [{"filter": "datum.s == 'r'"}], "mark": {"type": "line", "clip": true}, "encoding": {"detail": {"field": "c"}, "color": {"datum": "Ref.", "scale": {"domain": ["Ref.","Pred.","95% Confidence Interval"], "range": ["#2A9D8F","#F4A261","#7E2F8E"]}, "legend": {"title": null}}, "strokeDash": {"datum": "Ref.", "scale": {"domain": ["Ref.","Pred.","95% Confidence Interval"], "range": [[14,16],[1,0],[7,3,1.5,3]]}, "legend": {"title": null}}, "strokeWidth": {"datum": "Ref.", "scale": {"type": "ordinal", "domain": ["Ref.","Pred.","95% Confidence Interval"], "range": [4,2.8,1.2]}, "legend": {"title": null}}}},
  {"transform": [{"filter": "datum.s == 'q'"}], "mark": {"type": "line", "clip": true}, "encoding": {"detail": {"field": "c"}, "color": {"datum": "Pred.", "scale": {"domain": ["Ref.","Pred.","95% Confidence Interval"], "range": ["#2A9D8F","#F4A261","#7E2F8E"]}, "legend": {"title": null}}, "strokeDash": {"datum": "Pred.", "scale": {"domain": ["Ref.","Pred.","95% Confidence Interval"], "range": [[14,16],[1,0],[7,3,1.5,3]]}, "legend": {"title": null}}, "strokeWidth": {"datum": "Pred.", "scale": {"type": "ordinal", "domain": ["Ref.","Pred.","95% Confidence Interval"], "range": [4,2.8,1.2]}, "legend": {"title": null}}}},
  {"transform": [{"filter": "datum.s == 'l' || datum.s == 'h'"}], "mark": {"type": "line", "clip": true}, "encoding": {"detail": [{"field": "c"},{"field": "s"}], "color": {"datum": "95% Confidence Interval", "scale": {"domain": ["Ref.","Pred.","95% Confidence Interval"], "range": ["#2A9D8F","#F4A261","#7E2F8E"]}, "legend": {"title": null}}, "strokeDash": {"datum": "95% Confidence Interval", "scale": {"domain": ["Ref.","Pred.","95% Confidence Interval"], "range": [[14,16],[1,0],[7,3,1.5,3]]}, "legend": {"title": null}}, "strokeWidth": {"datum": "95% Confidence Interval", "scale": {"type": "ordinal", "domain": ["Ref.","Pred.","95% Confidence Interval"], "range": [4,2.8,1.2]}, "legend": {"title": null}}}}
 ]},
{"width": 210, "height": 182,
 "transform": [{"filter": "datum.p == 'a3'"}, {"fold": ["r","q","l","h"], "as": ["s","v"]}],
 "encoding": {
  "x": {"field": "t", "type": "quantitative", "scale": {"domain": [0,200]}, "axis": {"values": [0,100,200], "title": "# of Points", "labelFont": "Liberation Serif", "titleFont": "Liberation Serif"}},
  "y": {"field": "v", "type": "quantitative", "scale": {"domain": [20,80]}, "axis": {"values": [20,40,60,80], "title": "z", "labelFont": "Liberation Serif", "titleFont": "Liberation Serif"}}
 },
 "layer": [
  {"transform": [{"filter": "datum.s == 'r'"}], "mark": {"type": "line", "clip": true}, "encoding": {"detail": {"field": "c"}, "color": {"datum": "Ref.", "scale": {"domain": ["Ref.","Pred.","95% Confidence Interval"], "range": ["#2A9D8F","#F4A261","#7E2F8E"]}, "legend": {"title": null}}, "strokeDash": {"datum": "Ref.", "scale": {"domain": ["Ref.","Pred.","95% Confidence Interval"], "range": [[14,16],[1,0],[7,3,1.5,3]]}, "legend": {"title": null}}, "strokeWidth": {"datum": "Ref.", "scale": {"type": "ordinal", "domain": ["Ref.","Pred.","95% Confidence Interval"], "range": [4,2.8,1.2]}, "legend": {"title": null}}}},
  {"transform": [{"filter": "datum.s == 'q'"}], "mark": {"type": "line", "clip": true}, "encoding": {"detail": {"field": "c"}, "color": {"datum": "Pred.", "scale": {"domain": ["Ref.","Pred.","95% Confidence Interval"], "range": ["#2A9D8F","#F4A261","#7E2F8E"]}, "legend": {"title": null}}, "strokeDash": {"datum": "Pred.", "scale": {"domain": ["Ref.","Pred.","95% Confidence Interval"], "range": [[14,16],[1,0],[7,3,1.5,3]]}, "legend": {"title": null}}, "strokeWidth": {"datum": "Pred.", "scale": {"type": "ordinal", "domain": ["Ref.","Pred.","95% Confidence Interval"], "range": [4,2.8,1.2]}, "legend": {"title": null}}}},
  {"transform": [{"filter": "datum.s == 'l' || datum.s == 'h'"}], "mark": {"type": "line", "clip": true}, "encoding": {"detail": [{"field": "c"},{"field": "s"}], "color": {"datum": "95% Confidence Interval", "scale": {"domain": ["Ref.","Pred.","95% Confidence Interval"], "range": ["#2A9D8F","#F4A261","#7E2F8E"]}, "legend": {"title": null}}, "strokeDash": {"datum": "95% Confidence Interval", "scale": {"domain": ["Ref.","Pred.","95% Confidence Interval"], "range": [[14,16],[1,0],[7,3,1.5,3]]}, "legend": {"title": null}}, "strokeWidth": {"datum": "95% Confidence Interval", "scale": {"type": "ordinal", "domain": ["Ref.","Pred.","95% Confidence Interval"], "range": [4,2.8,1.2]}, "legend": {"title": null}}}}
 ]},
{"width": 210, "height": 182, "layer": [
 {"transform": [{"filter": "datum.p == 'b1'"}, {"fold": ["r","q","l","h"], "as": ["s","v"]}],
  "encoding": {
   "x": {"field": "t", "type": "quantitative", "scale": {"domain": [0,200]}, "axis": {"values": [0,100,200], "title": "# of Points", "labelFont": "Liberation Serif", "titleFont": "Liberation Serif"}},
   "y": {"field": "v", "type": "quantitative", "scale": {"domain": [-20,10]}, "axis": {"values": [-20,-10,0,10], "title": "x", "labelFont": "Liberation Serif", "titleFont": "Liberation Serif", "labelExpr": "datum.value < 0 ? '-' + abs(datum.value) : '' + datum.value"}}
  },
  "layer": [
   {"transform": [{"filter": "datum.s == 'r'"}], "mark": {"type": "line", "clip": true}, "encoding": {"detail": {"field": "c"}, "color": {"datum": "Ref.", "scale": {"domain": ["Ref.","Pred.","95% Confidence Interval"], "range": ["#2A9D8F","#F4A261","#7E2F8E"]}, "legend": {"title": null}}, "strokeDash": {"datum": "Ref.", "scale": {"domain": ["Ref.","Pred.","95% Confidence Interval"], "range": [[14,16],[1,0],[7,3,1.5,3]]}, "legend": {"title": null}}, "strokeWidth": {"datum": "Ref.", "scale": {"type": "ordinal", "domain": ["Ref.","Pred.","95% Confidence Interval"], "range": [4,2.8,1.2]}, "legend": {"title": null}}}},
   {"transform": [{"filter": "datum.s == 'q'"}], "mark": {"type": "line", "clip": true}, "encoding": {"detail": {"field": "c"}, "color": {"datum": "Pred.", "scale": {"domain": ["Ref.","Pred.","95% Confidence Interval"], "range": ["#2A9D8F","#F4A261","#7E2F8E"]}, "legend": {"title": null}}, "strokeDash": {"datum": "Pred.", "scale": {"domain": ["Ref.","Pred.","95% Confidence Interval"], "range": [[14,16],[1,0],[7,3,1.5,3]]}, "legend": {"title": null}}, "strokeWidth": {"datum": "Pred.", "scale": {"type": "ordinal", "domain": ["Ref.","Pred.","95% Confidence Interval"], "range": [4,2.8,1.2]}, "legend": {"title": null}}}},
   {"transform": [{"filter": "datum.s == 'l' || datum.s == 'h'"}], "mark": {"type": "line", "clip": true}, "encoding": {"detail": [{"field": "c"},{"field": "s"}], "color": {"datum": "95% Confidence Interval", "scale": {"domain": ["Ref.","Pred.","95% Confidence Interval"], "range": ["#2A9D8F","#F4A261","#7E2F8E"]}, "legend": {"title": null}}, "strokeDash": {"datum": "95% Confidence Interval", "scale": {"domain": ["Ref.","Pred.","95% Confidence Interval"], "range": [[14,16],[1,0],[7,3,1.5,3]]}, "legend": {"title": null}}, "strokeWidth": {"datum": "95% Confidence Interval", "scale": {"type": "ordinal", "domain": ["Ref.","Pred.","95% Confidence Interval"], "range": [4,2.8,1.2]}, "legend": {"title": null}}}}
  ]},
 {"data": {"values": [{}]}, "mark": {"type": "rect", "color": "#D9D9D9"}, "encoding": {"x": {"datum": -86.7, "type": "quantitative", "scale": {"domain": [0,200]}}, "x2": {"datum": -37.1}, "y": {"datum": 13.3, "type": "quantitative", "scale": {"domain": [-20,10]}}, "y2": {"datum": 6.7}}},
 {"data": {"values": [{}]}, "mark": {"type": "text", "text": "(b)", "font": "Lato", "fontWeight": "bold", "fontSize": 22, "align": "center", "baseline": "middle", "color": "#000000"}, "encoding": {"x": {"datum": -61.9, "type": "quantitative", "scale": {"domain": [0,200]}}, "y": {"datum": 9.8, "type": "quantitative", "scale": {"domain": [-20,10]}}}}
]},
{"width": 210, "height": 182,
 "transform": [{"filter": "datum.p == 'b2'"}, {"fold": ["r","q","l","h"], "as": ["s","v"]}],
 "encoding": {
  "x": {"field": "t", "type": "quantitative", "scale": {"domain": [0,200]}, "axis": {"values": [0,100,200], "title": "# of Points", "labelFont": "Liberation Serif", "titleFont": "Liberation Serif"}},
  "y": {"field": "v", "type": "quantitative", "scale": {"domain": [-21.4,20], "nice": false}, "axis": {"values": [-20,-10,0,10,20], "title": "y", "labelFont": "Liberation Serif", "titleFont": "Liberation Serif", "labelExpr": "datum.value < 0 ? '-' + abs(datum.value) : '' + datum.value"}}
 },
 "layer": [
  {"transform": [{"filter": "datum.s == 'r'"}], "mark": {"type": "line", "clip": true}, "encoding": {"detail": {"field": "c"}, "color": {"datum": "Ref.", "scale": {"domain": ["Ref.","Pred.","95% Confidence Interval"], "range": ["#2A9D8F","#F4A261","#7E2F8E"]}, "legend": {"title": null}}, "strokeDash": {"datum": "Ref.", "scale": {"domain": ["Ref.","Pred.","95% Confidence Interval"], "range": [[14,16],[1,0],[7,3,1.5,3]]}, "legend": {"title": null}}, "strokeWidth": {"datum": "Ref.", "scale": {"type": "ordinal", "domain": ["Ref.","Pred.","95% Confidence Interval"], "range": [4,2.8,1.2]}, "legend": {"title": null}}}},
  {"transform": [{"filter": "datum.s == 'q'"}], "mark": {"type": "line", "clip": true}, "encoding": {"detail": {"field": "c"}, "color": {"datum": "Pred.", "scale": {"domain": ["Ref.","Pred.","95% Confidence Interval"], "range": ["#2A9D8F","#F4A261","#7E2F8E"]}, "legend": {"title": null}}, "strokeDash": {"datum": "Pred.", "scale": {"domain": ["Ref.","Pred.","95% Confidence Interval"], "range": [[14,16],[1,0],[7,3,1.5,3]]}, "legend": {"title": null}}, "strokeWidth": {"datum": "Pred.", "scale": {"type": "ordinal", "domain": ["Ref.","Pred.","95% Confidence Interval"], "range": [4,2.8,1.2]}, "legend": {"title": null}}}},
  {"transform": [{"filter": "datum.s == 'l' || datum.s == 'h'"}], "mark": {"type": "line", "clip": true}, "encoding": {"detail": [{"field": "c"},{"field": "s"}], "color": {"datum": "95% Confidence Interval", "scale": {"domain": ["Ref.","Pred.","95% Confidence Interval"], "range": ["#2A9D8F","#F4A261","#7E2F8E"]}, "legend": {"title": null}}, "strokeDash": {"datum": "95% Confidence Interval", "scale": {"domain": ["Ref.","Pred.","95% Confidence Interval"], "range": [[14,16],[1,0],[7,3,1.5,3]]}, "legend": {"title": null}}, "strokeWidth": {"datum": "95% Confidence Interval", "scale": {"type": "ordinal", "domain": ["Ref.","Pred.","95% Confidence Interval"], "range": [4,2.8,1.2]}, "legend": {"title": null}}}}
 ]},
{"width": 210, "height": 182,
 "transform": [{"filter": "datum.p == 'b3'"}, {"fold": ["r","q","l","h"], "as": ["s","v"]}],
 "encoding": {
  "x": {"field": "t", "type": "quantitative", "scale": {"domain": [0,200]}, "axis": {"values": [0,100,200], "title": "# of Points", "labelFont": "Liberation Serif", "titleFont": "Liberation Serif"}},
  "y": {"field": "v", "type": "quantitative", "scale": {"domain": [20,61.8], "nice": false}, "axis": {"values": [20,30,40,50,60], "title": "z", "labelFont": "Liberation Serif", "titleFont": "Liberation Serif"}}
 },
 "layer": [
  {"transform": [{"filter": "datum.s == 'r'"}], "mark": {"type": "line", "clip": true}, "encoding": {"detail": {"field": "c"}, "color": {"datum": "Ref.", "scale": {"domain": ["Ref.","Pred.","95% Confidence Interval"], "range": ["#2A9D8F","#F4A261","#7E2F8E"]}, "legend": {"title": null}}, "strokeDash": {"datum": "Ref.", "scale": {"domain": ["Ref.","Pred.","95% Confidence Interval"], "range": [[14,16],[1,0],[7,3,1.5,3]]}, "legend": {"title": null}}, "strokeWidth": {"datum": "Ref.", "scale": {"type": "ordinal", "domain": ["Ref.","Pred.","95% Confidence Interval"], "range": [4,2.8,1.2]}, "legend": {"title": null}}}},
  {"transform": [{"filter": "datum.s == 'q'"}], "mark": {"type": "line", "clip": true}, "encoding": {"detail": {"field": "c"}, "color": {"datum": "Pred.", "scale": {"domain": ["Ref.","Pred.","95% Confidence Interval"], "range": ["#2A9D8F","#F4A261","#7E2F8E"]}, "legend": {"title": null}}, "strokeDash": {"datum": "Pred.", "scale": {"domain": ["Ref.","Pred.","95% Confidence Interval"], "range": [[14,16],[1,0],[7,3,1.5,3]]}, "legend": {"title": null}}, "strokeWidth": {"datum": "Pred.", "scale": {"type": "ordinal", "domain": ["Ref.","Pred.","95% Confidence Interval"], "range": [4,2.8,1.2]}, "legend": {"title": null}}}},
  {"transform": [{"filter": "datum.s == 'l' || datum.s == 'h'"}], "mark": {"type": "line", "clip": true}, "encoding": {"detail": [{"field": "c"},{"field": "s"}], "color": {"datum": "95% Confidence Interval", "scale": {"domain": ["Ref.","Pred.","95% Confidence Interval"], "range": ["#2A9D8F","#F4A261","#7E2F8E"]}, "legend": {"title": null}}, "strokeDash": {"datum": "95% Confidence Interval", "scale": {"domain": ["Ref.","Pred.","95% Confidence Interval"], "range": [[14,16],[1,0],[7,3,1.5,3]]}, "legend": {"title": null}}, "strokeWidth": {"datum": "95% Confidence Interval", "scale": {"type": "ordinal", "domain": ["Ref.","Pred.","95% Confidence Interval"], "range": [4,2.8,1.2]}, "legend": {"title": null}}}}
 ]}
],
"config": {
 "font": "Liberation Serif",
 "style": {"guide-label": {"font": "Liberation Serif"}, "guide-title": {"font": "Liberation Serif"}},
 "view": {"stroke": null},
 "line": {"interpolate": "monotone"},
 "axis": {"grid": false, "domainColor": "#262626", "domainWidth": 1, "tickColor": "#262626", "tickSize": -4, "tickWidth": 1, "labelPadding": 9, "labelFont": "Liberation Serif", "labelFontSize": 20, "labelColor": "#262626", "labelFlush": false, "labelOverlap": false, "titleFont": "Liberation Serif", "titleFontWeight": "normal", "titleColor": "#262626"},
 "axisX": {"titleFontSize": 22, "titlePadding": 7},
 "axisY": {"titleFontSize": 26, "titleFontStyle": "italic", "titlePadding": 10},
 "legend": {"orient": "none", "legendX": 226, "legendY": -42, "direction": "horizontal", "symbolType": "M-4,0H4", "symbolSize": 100, "labelFont": "Liberation Serif", "labelFontSize": 19, "labelColor": "#000000", "labelLimit": 0, "labelOffset": 15, "columnPadding": 8, "padding": 0, "offset": 0}
}
}
